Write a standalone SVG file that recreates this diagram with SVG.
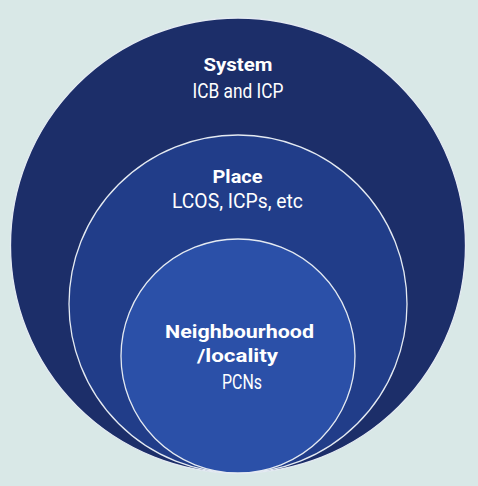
<svg xmlns="http://www.w3.org/2000/svg" width="478" height="486" viewBox="0 0 478 486">
  <style>
    .ring { stroke: #e4eaf2; stroke-width: 1.3; }
    .t { font-family: Roboto, "Liberation Sans", Arial, sans-serif; fill: #ffffff; text-anchor: middle; }
    .b { font-weight: bold; font-size: 19px; }
    .r { font-weight: normal; font-size: 20px; }
  </style>
  <rect x="0" y="0" width="478" height="486" fill="#d9e8e7"/>
  <g id="system">
    <circle class="ring" cx="238" cy="245.5" r="227.5" fill="#1c2e69"/>
    <text class="t b" x="238" y="71" textLength="69" lengthAdjust="spacingAndGlyphs">System</text>
    <text class="t r" x="238" y="97.5" textLength="91" lengthAdjust="spacingAndGlyphs">ICB and ICP</text>
  </g>
  <g id="place">
    <circle class="ring" cx="238" cy="304" r="169" fill="#213d89"/>
    <text class="t b" x="237.5" y="183" textLength="50" lengthAdjust="spacingAndGlyphs">Place</text>
    <text class="t r" x="237.5" y="208" textLength="131" lengthAdjust="spacingAndGlyphs">LCOS, ICPs, etc</text>
  </g>
  <g id="neighbourhood">
    <circle class="ring" cx="238" cy="356" r="117" fill="#2b50a8"/>
    <text class="t b" x="239.5" y="338" textLength="149" lengthAdjust="spacingAndGlyphs">Neighbourhood</text>
    <text class="t b" x="237.5" y="362" textLength="81" lengthAdjust="spacingAndGlyphs">/locality</text>
    <text class="t r" x="242" y="389" textLength="40" lengthAdjust="spacingAndGlyphs">PCNs</text>
  </g>
</svg>
